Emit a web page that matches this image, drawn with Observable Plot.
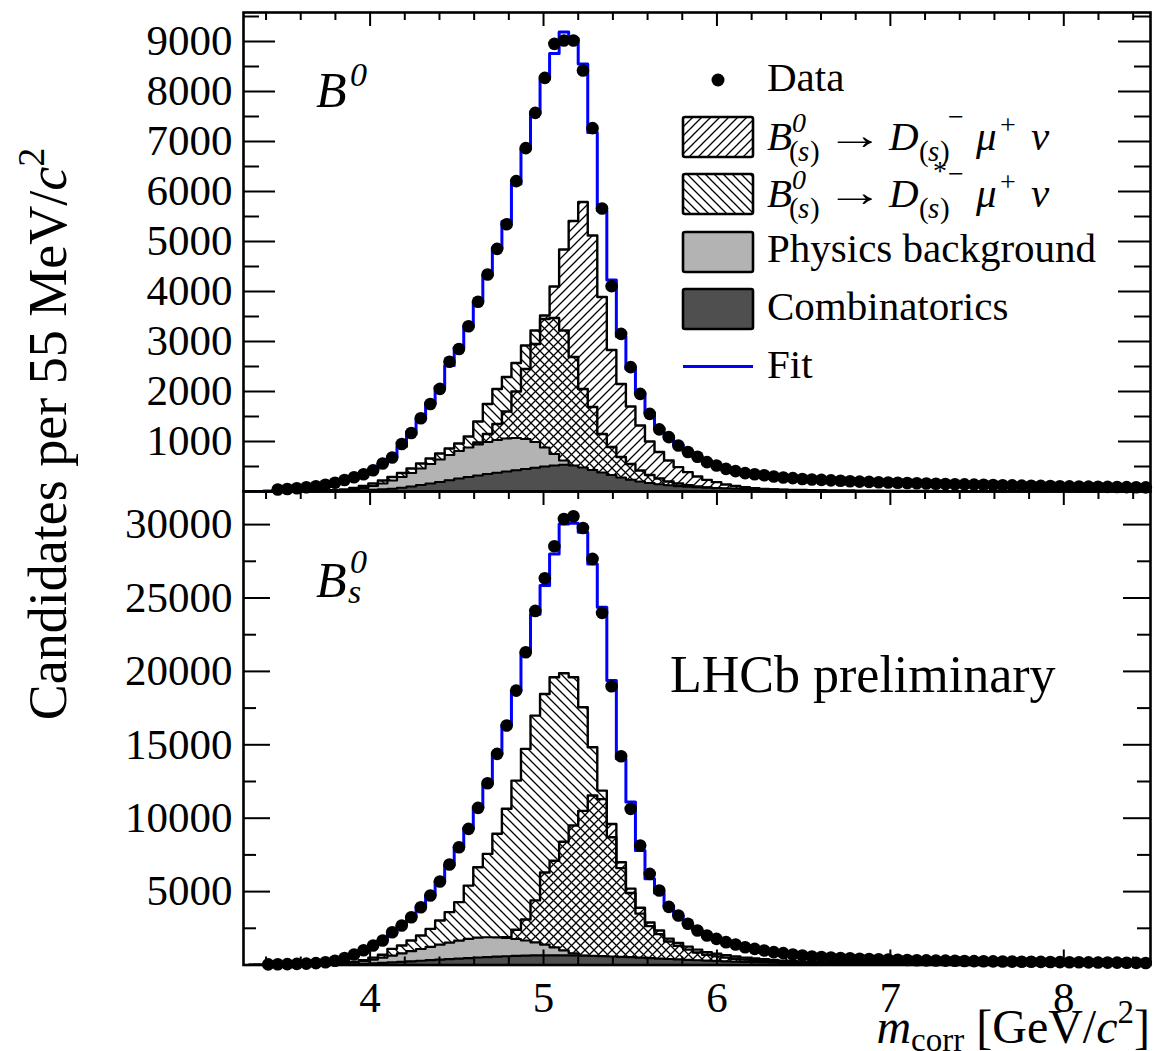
<!DOCTYPE html>
<html><head><meta charset="utf-8">
<script src="https://cdn.jsdelivr.net/npm/d3@7"></script>
<script src="https://cdn.jsdelivr.net/npm/@observablehq/plot@0.6"></script>
<style>
body{margin:0;background:#fff;}
#wrap{position:relative;width:1176px;height:1051px;overflow:hidden;background:#fff;font-family:"Liberation Serif","Times New Roman",serif;}
#wrap svg{position:absolute;left:0;}
</style></head><body>
<svg width="0" height="0" style="position:absolute">
<defs>
<pattern id="hatchFwd" patternUnits="userSpaceOnUse" width="9" height="9">
<path d="M0,9 L9,0 M-2,2 L2,-2 M7,11 L11,7" stroke="#000" stroke-width="1.3" fill="none"/>
</pattern>
<pattern id="hatchBack" patternUnits="userSpaceOnUse" width="9" height="9">
<path d="M0,0 L9,9 M-2,7 L2,11 M7,-2 L11,2" stroke="#000" stroke-width="1.3" fill="none"/>
</pattern>
</defs>
</svg>
<div id="wrap"></div>
<script>
// ---- binning (55 MeV bins) ----
const binLow = 3.275, binWidth = 0.055;

// ---- tick values ----
const xMajor = [4, 5, 6, 7, 8];
const xMinor = [3.4, 3.6, 3.8, 4.2, 4.4, 4.6, 4.8, 5.2, 5.4, 5.6, 5.8, 6.2, 6.4, 6.6, 6.8, 7.2, 7.4, 7.6, 7.8, 8.2, 8.4];
const topYMajor = [1000, 2000, 3000, 4000, 5000, 6000, 7000, 8000, 9000];
const topYMinor = [500, 1500, 2500, 3500, 4500, 5500, 6500, 7500, 8500, 9500];
const botYMajor = [5000, 10000, 15000, 20000, 25000, 30000];
const botYMinor = [2500, 7500, 12500, 17500, 22500, 27500];

// ---- B0 panel ----
const topData = [null,null,null,40,50,65,85,105,135,175,
230,285,345,425,560,680,950,1170,1465,1750,
2053,2595,2850,3305,3795,4340,4853,5345,6207,6867,
7573,8273,8953,9020,9020,8420,7267,5660,4107,3153,
2487,1953,1553,1243,1087,920,790,695,587,520,
453,407,367,345,325,300,280,267,250,240,
232,222,215,205,198,192,185,180,176,170,
165,160,156,150,146,142,138,134,130,126,
122,118,115,112,109,106,103,100,98,95,
92,90,88,85,83];
const topFit = [0,0,10,35,48,62,82,105,135,175,
225,285,350,440,560,700,900,1150,1450,1760,
2100,2520,2880,3300,3800,4330,4860,5400,6150,6850,
7560,8250,8760,9190,9060,8550,7180,5620,4230,3100,
2450,1960,1570,1270,1080,930,800,700,610,535,
470,420,380,350,325,303,285,268,254,242,
232,223,215,207,200,193,187,181,176,171,
166,161,156,152,147,143,139,135,131,127,
123,120,116,113,110,107,104,101,98,96,
93,91,88,86,84];
const topDMu = [0,0,0,0,0,0,0,2,5,9,
20,35,55,80,110,150,200,260,330,410,
500,600,700,820,980,1150,1350,1600,2000,2450,
2950,3520,4100,4840,5410,5790,5120,3890,2830,2150,
1700,1320,1000,790,620,487,387,300,233,187,
140,110,85,65,50,40,30,23,18,14,
11,8,6,5,4,3,2,2,1,1,
0,0,0,0,0,0,0,0,0,0,
0,0,0,0,0,0,0,0,0,0,
0,0,0,0,0];
const topDsMu = [0,0,0,0,0,2,4,8,14,24,
40,70,110,160,220,290,370,460,560,660,
760,860,960,1100,1400,1750,2050,2290,2570,2920,
3220,3450,3470,3220,2690,2050,1690,1150,890,690,
550,420,330,260,200,160,125,100,80,62,
48,37,28,21,16,12,9,7,5,4,
3,2,2,1,1,0,0,0,0,0,
0,0,0,0,0,0,0,0,0,0,
0,0,0,0,0,0,0,0,0,0,
0,0,0,0,0];
const topPhys = [0,0,0,0,0,0,0,2,5,10,
20,40,70,110,160,220,290,370,460,550,
640,730,810,880,940,990,1030,1060,1070,1050,
990,880,750,620,500,390,300,230,170,125,
90,65,45,32,22,15,10,7,5,3,
2,1,1,0,0,0,0,0,0,0,
0,0,0,0,0,0,0,0,0,0,
0,0,0,0,0,0,0,0,0,0,
0,0,0,0,0,0,0,0,0,0,
0,0,0,0,0];
const topComb = [0,0,0,0,0,0,2,4,6,8,
12,17,24,32,42,55,75,100,130,160,
190,225,260,290,320,350,375,400,425,450,
475,500,520,535,520,480,430,380,330,280,
235,200,170,145,125,108,95,85,76,69,
63,58,53,49,45,41,38,35,32,29,
27,25,23,21,19,17,16,15,14,13,
12,11,11,10,10,9,9,8,8,8,
7,7,7,6,6,6,6,5,5,5,
5,5,4,4,4];

// ---- Bs0 panel ----
const botData = [null,null,40,50,60,75,95,130,190,290,
480,720,1000,1330,1670,2234,2690,3255,3936,4733,
5686,6844,8022,9275,10705,12381,14383,16310,18693,21303,
24120,26343,28521,30385,30564,29771,27662,23985,18987,14219,
10637,8138,6210,5073,3960,3371,2805,2350,2010,1782,
1555,1396,1214,1101,987,874,806,715,647,579,
545,510,480,455,430,410,390,370,355,340,
325,315,305,295,285,275,266,257,249,241,
233,225,218,211,204,197,190,183,177,171,
165,159,153,147,141];
const botFit = [0,10,35,48,60,78,100,140,200,300,
470,700,980,1320,1700,2200,2700,3270,3950,4750,
5700,6820,8050,9300,10700,12350,14350,16350,18700,21300,
23900,25844,28000,30044,30100,29476,27322,24377,19383,14048,
11097,7805,5876,4900,3980,3380,2830,2380,2030,1790,
1570,1400,1230,1100,990,890,805,725,655,590,
545,510,480,455,430,410,390,372,356,341,
327,315,304,294,284,275,266,257,249,241,
233,226,219,212,205,198,191,184,178,172,
166,160,154,148,142];
const botDMu = [0,0,0,0,0,0,2,6,12,20,
30,50,75,105,140,180,230,290,360,440,
530,640,770,920,1100,1320,1580,1900,2400,3100,
4400,6300,7100,8400,9500,10500,11550,11300,9600,7000,
5200,3900,2900,2350,1800,1500,1250,1050,880,770,
660,580,500,440,390,340,300,260,230,200,
175,150,130,110,95,80,70,60,50,42,
35,29,24,20,16,13,10,8,6,5,
4,3,3,2,2,1,1,1,0,0,
0,0,0,0,0];
const botDsMu = [0,0,0,0,2,4,7,12,20,35,
100,200,330,500,700,1100,1330,1670,2010,2460,
3030,3600,4280,5410,6660,7570,8940,10640,12560,14720,
16990,18460,19600,19870,19600,17560,14835,11880,8700,6600,
4900,3500,2650,2100,1600,1300,1050,850,700,590,
500,430,370,320,270,230,200,170,145,125,
105,90,75,62,52,43,36,30,25,20,
16,13,10,8,6,5,4,3,2,2,
1,1,1,0,0,0,0,0,0,0,
0,0,0,0,0];
const botPhys = [0,0,0,0,0,0,5,15,30,60,
100,170,260,370,500,640,790,940,1090,1240,
1390,1530,1660,1780,1860,1890,1880,1840,1770,1670,
1540,1390,1200,1000,800,630,490,370,280,210,
160,120,90,65,48,35,25,18,13,9,
6,4,3,2,1,0,0,0,0,0,
0,0,0,0,0,0,0,0,0,0,
0,0,0,0,0,0,0,0,0,0,
0,0,0,0,0,0,0,0,0,0,
0,0,0,0,0];
const botComb = [0,0,0,0,0,2,5,9,15,22,
30,50,80,110,140,175,210,250,290,330,
370,405,440,475,510,540,570,595,620,635,
650,655,660,655,650,635,620,600,580,555,
530,500,470,440,410,380,350,325,300,275,
250,230,210,192,176,160,146,133,121,110,
100,92,84,76,69,62,57,52,47,43,
40,37,34,32,30,28,26,24,23,22,
21,20,19,18,17,16,15,15,14,14,
13,13,12,12,12];

const centers = topData.map((_, i) => binLow + binWidth * (i + 0.5));
const FRAME_L = 243, FRAME_R = 1150, WIDTH = 1176;
const FONT = "Liberation Serif";
const TICK_FS = 43;

function panel(cfg) {
  const rows = centers.map((x, i) => ({x, data: cfg.data[i], fit: cfg.fit[i], dMu: cfg.dMu[i], dsMu: cfg.dsMu[i], phys: cfg.phys[i], comb: cfg.comb[i]}));
  const plotW = FRAME_R - FRAME_L;
  const plotH = cfg.height - cfg.marginTop - cfg.marginBottom;
  const marks = [
    Plot.areaY(rows, {x: "x", y: "dMu", curve: "step", fill: "url(#hatchFwd)", clip: true}),
    Plot.areaY(rows, {x: "x", y: "dsMu", curve: "step", fill: "url(#hatchBack)", clip: true}),
    Plot.lineY(rows, {x: "x", y: "dMu", curve: "step", stroke: "#000", strokeWidth: 2.4, clip: true}),
    Plot.lineY(rows, {x: "x", y: "dsMu", curve: "step", stroke: "#000", strokeWidth: 2.4, clip: true}),
    Plot.areaY(rows, {x: "x", y: "phys", curve: "step", fill: "#b3b3b3", clip: true}),
    Plot.lineY(rows, {x: "x", y: "phys", curve: "step", stroke: "#000", strokeWidth: 2.2, clip: true}),
    Plot.areaY(rows, {x: "x", y: "comb", curve: "step", fill: "#4f4f4f", clip: true}),
    Plot.lineY(rows, {x: "x", y: "comb", curve: "step", stroke: "#000", strokeWidth: 2.2, clip: true}),
    Plot.lineY(rows, {x: "x", y: "fit", curve: "step", stroke: "#0000ff", strokeWidth: 3, clip: true}),
    Plot.dot(rows.filter(d => d.data != null), {x: "x", y: "data", r: 6.3, fill: "#000"}),
    Plot.tickY(cfg.yMajor, {y: d => d, insetRight: plotW - cfg.yMajLen, strokeWidth: 2}),
    Plot.tickY(cfg.yMinor, {y: d => d, insetRight: plotW - cfg.yMinLen, strokeWidth: 2}),
    Plot.tickY(cfg.yMajor, {y: d => d, insetLeft: plotW - cfg.yMajLen, strokeWidth: 2}),
    Plot.tickY(cfg.yMinor, {y: d => d, insetLeft: plotW - cfg.yMinLen, strokeWidth: 2}),
    Plot.tickX(xMajor, {x: d => d, insetBottom: plotH - 14, strokeWidth: 2}),
    Plot.tickX(xMinor, {x: d => d, insetBottom: plotH - 8, strokeWidth: 2}),
    Plot.axisY(cfg.yMajor, {anchor: "left", tickSize: 0, tickPadding: 11, tickFormat: d => String(d), fontSize: TICK_FS, label: null}),
    Plot.frame({stroke: "#000", strokeWidth: 2.6})
  ];
  if (cfg.bottomAxis) {
    marks.push(
      Plot.tickX(xMajor, {x: d => d, insetTop: plotH - 15, strokeWidth: 2}),
      Plot.tickX(xMinor, {x: d => d, insetTop: plotH - 8, strokeWidth: 2}),
      Plot.axisX(xMajor, {anchor: "bottom", tickSize: 0, tickPadding: 16, tickFormat: d => String(d), fontSize: TICK_FS, label: null})
    );
  }
  const svg = Plot.plot({
    width: WIDTH, height: cfg.height,
    marginLeft: FRAME_L, marginRight: WIDTH - FRAME_R,
    marginTop: cfg.marginTop, marginBottom: cfg.marginBottom,
    x: {domain: [3.27, 8.5], axis: cfg.bottomAxis ? undefined : null},
    y: {domain: [0, cfg.yMax]},
    style: {fontFamily: FONT, background: "transparent", overflow: "visible", color: "#000"},
    marks
  });
  svg.style.top = cfg.top + "px";
  return svg;
}

const wrap = document.getElementById("wrap");
wrap.appendChild(panel({data: topData, fit: topFit, dMu: topDMu, dsMu: topDsMu, phys: topPhys, comb: topComb,
  yMax: 9580, yMajor: topYMajor, yMinor: topYMinor, yMajLen: 32, yMinLen: 16,
  height: 491, marginTop: 12, marginBottom: 0, top: 0, bottomAxis: false}));
wrap.appendChild(panel({data: botData, fit: botFit, dMu: botDMu, dsMu: botDsMu, phys: botPhys, comb: botComb,
  yMax: 32255, yMajor: botYMajor, yMinor: botYMinor, yMajLen: 27, yMinLen: 13,
  height: 560, marginTop: 0, marginBottom: 86.5, top: 491, bottomAxis: true}));

// ---- overlay: titles, panel labels, legend ----
const ov = d3.select(wrap).append("svg").attr("width", WIDTH).attr("height", 1051)
  .style("top", "0px").style("overflow", "visible").attr("font-family", FONT);

function piece(x, y, t, size, italic, anchor) {
  return ov.append("text").attr("x", x).attr("y", y).attr("font-size", size)
    .attr("font-style", italic ? "italic" : "normal").attr("text-anchor", anchor || "start").text(t);
}

// y title
const yt = ov.append("text").attr("transform", "translate(66,434) rotate(-90)").attr("text-anchor", "middle").attr("font-size", 54);
yt.append("tspan").text("Candidates per 55 MeV/");
yt.append("tspan").attr("font-style", "italic").text("c");
yt.append("tspan").attr("font-size", 38).attr("dy", -22).text("2");

// x title
const xt = ov.append("text").attr("x", 1150).attr("y", 1043).attr("text-anchor", "end").attr("font-size", 48);
xt.append("tspan").attr("font-style", "italic").text("m");
xt.append("tspan").attr("font-size", 33).attr("dy", 8).text("corr");
xt.append("tspan").attr("dy", -8).text(" [GeV/");
xt.append("tspan").attr("font-style", "italic").text("c");
xt.append("tspan").attr("font-size", 33).attr("dy", -20).text("2");
xt.append("tspan").attr("dy", 20).text("]");

// panel labels
piece(316, 107, "B", 50, true);
piece(350, 86, "0", 34, true);
piece(316, 597, "B", 50, true);
piece(350, 573, "0", 34, true);
piece(348, 603, "s", 34, true);
piece(670, 692, "LHCb preliminary", 52, false);

// legend
ov.append("circle").attr("cx", 718).attr("cy", 80).attr("r", 6.5).attr("fill", "#000");
piece(767, 90.5, "Data", 41, false);
const boxes = [
  {y: 117, fill: "url(#hatchFwd)"},
  {y: 174, fill: "url(#hatchBack)"},
  {y: 232, fill: "#b3b3b3"},
  {y: 289, fill: "#4f4f4f"}
];
boxes.forEach(b => ov.append("rect").attr("x", 683).attr("y", b.y).attr("width", 70).attr("height", 40)
  .attr("fill", b.fill).attr("stroke", "#000").attr("stroke-width", 2.6).attr("rx", 2));
ov.append("line").attr("x1", 683).attr("x2", 753).attr("y1", 366.5).attr("y2", 366.5).attr("stroke", "#0000ff").attr("stroke-width", 3);

function decay(base, star) {
  piece(767, base, "B", 41, true);
  piece(792, base - 18, "0", 28, true);
  piece(789, base + 11, "(", 29, false);
  piece(798, base + 11, "s", 29, true);
  piece(810, base + 11, ")", 29, false);
  ov.append("text").attr("transform", `translate(826,${base - 1}) scale(1.45,1)`).attr("font-size", 40).text("\u2192");
  piece(889, base, "D", 41, true);
  piece(919, base + 11, "(", 29, false);
  piece(928, base + 11, "s", 29, true);
  piece(940, base + 11, ")", 29, false);
  if (star) piece(933, base - 27, "*", 28, false);
  piece(948, base - 24, "\u2212", 28, false);
  piece(976, base, "\u03bc", 41, true);
  piece(1000, base - 16, "+", 28, false);
  piece(1031, base, "\u03bd", 41, true);
}
decay(150, false);
decay(207, true);
piece(767, 262, "Physics background", 41, false);
piece(767, 320, "Combinatorics", 41, false);
piece(767, 378, "Fit", 41, false);
</script>
</body></html>
